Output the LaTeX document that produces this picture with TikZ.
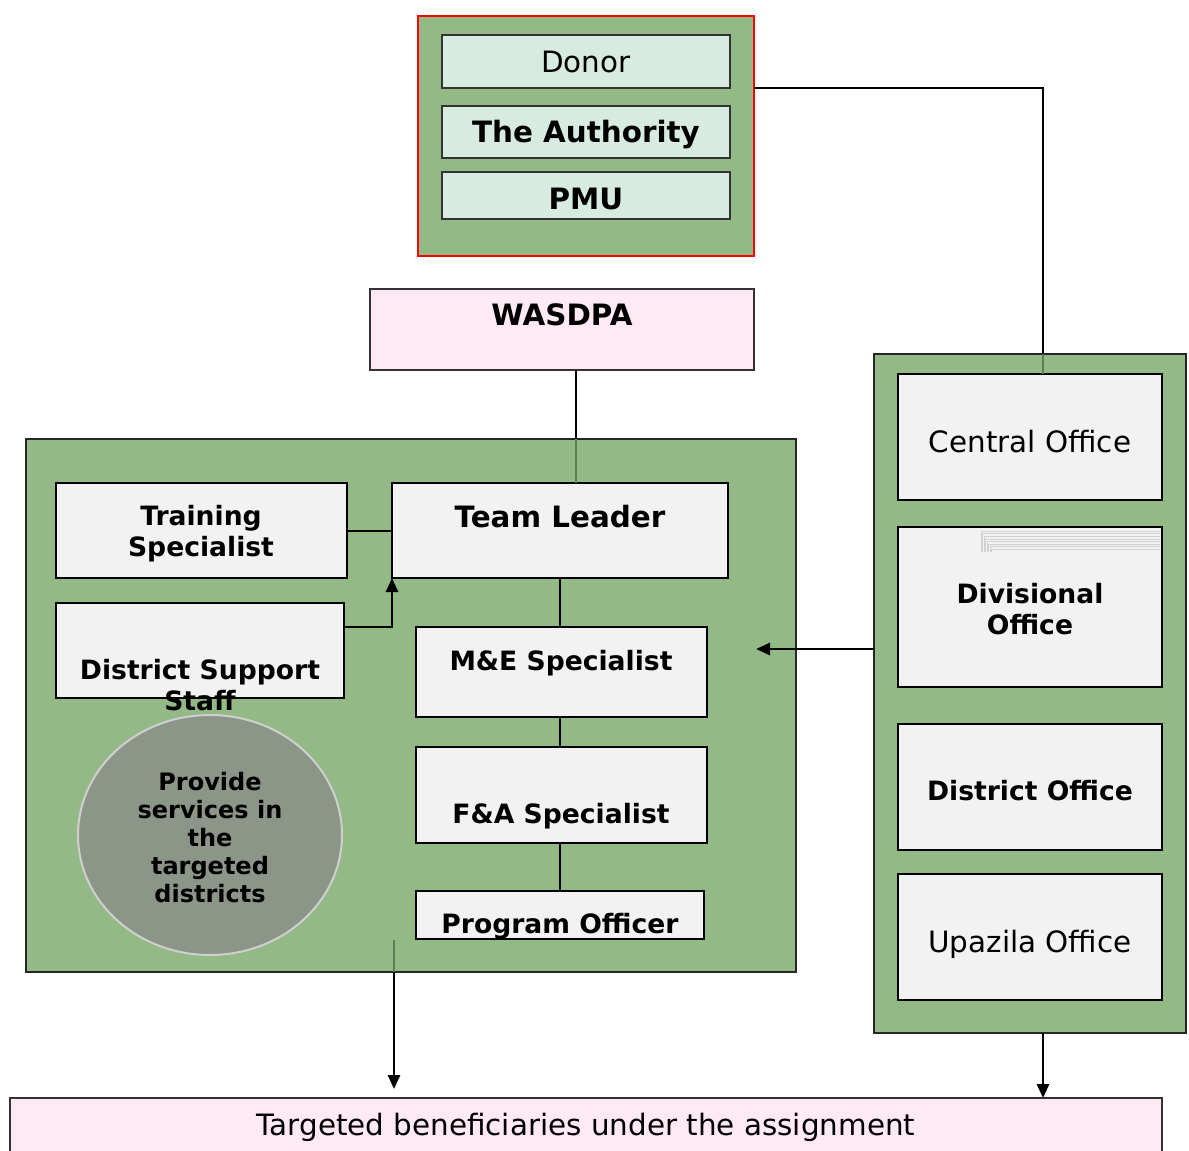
\documentclass[tikz,border=0pt]{standalone}
\usepackage{fontspec}
\setmainfont{DejaVu Sans}
\usetikzlibrary{arrows.meta,fit,shapes.geometric}
\definecolor{grn}{HTML}{93B986}
\definecolor{mint}{HTML}{D8EBE0}
\definecolor{pinkf}{HTML}{FFE9F4}
\definecolor{boxg}{HTML}{F2F2F2}
\definecolor{ellf}{HTML}{8C9688}
\definecolor{ellb}{HTML}{CFCFCF}
\definecolor{dkgrn}{HTML}{5E7F55}
\newcommand{\mybox}[6]{\node[#6, fit={(#2,#3) (#4,#5)}, inner sep=0pt, outer sep=0pt] (#1) {};}
\tikzset{
  grp/.style={draw=black!85, line width=1pt, fill=grn},
  redgrp/.style={draw=red, line width=1pt, fill=grn},
  mintbox/.style={draw=black!80, line width=0.8pt, fill=mint},
  graybox/.style={draw=black, line width=1.4pt, fill=boxg},
  pinkbox/.style={draw=black!80, line width=0.8pt, fill=pinkf},
  txt/.style={font=\fontsize{14.7}{15.5}\selectfont, inner sep=0pt, anchor=base, align=center},
  btxt/.style={txt, font=\fontsize{14.7}{15.5}\selectfont\bfseries},
  sbtxt/.style={txt, font=\fontsize{13.3}{15.5}\selectfont\bfseries},
  conn/.style={draw=black, line width=1.4pt},
  inconn/.style={draw=dkgrn, line width=1.4pt},
  arr/.style={conn, -{Triangle[length=7pt,width=6pt]}},
}
\begin{document}
\begin{tikzpicture}[x=0.5pt,y=-0.5pt]
\useasboundingbox (0,0) rectangle (1189,1151);
\clip (0,0) rectangle (1189,1151);
% top group
\mybox{topgrp}{418}{16}{754}{256}{redgrp}
\mybox{donor}{442}{35}{730}{88}{mintbox}
\mybox{auth}{442}{106}{730}{158}{mintbox}
\mybox{pmu}{442}{172}{730}{219}{mintbox}
\node[txt] (tdonor) at (586,72) {Donor};
\node[btxt] (tauth) at (586,142) {The Authority};
\node[btxt] (tpmu) at (586,209) {PMU};
% WASDPA
\mybox{wasdpa}{370}{289}{754}{370}{pinkbox}
\node[btxt] (twasdpa) at (562,325) {WASDPA};
% left group
\mybox{leftgrp}{26}{439}{796}{972}{grp}
\mybox{training}{56}{483}{347}{578}{graybox}
\mybox{team}{392}{483}{728}{578}{graybox}
\mybox{dss}{56}{603}{344}{698}{graybox}
\mybox{me}{416}{627}{707}{717}{graybox}
\mybox{fa}{416}{747}{707}{843}{graybox}
\mybox{po}{416}{891}{704}{939}{graybox}
\node[ellipse, draw=ellb, line width=1pt, fill=ellf, minimum width=132pt, minimum height=120pt, inner sep=0pt] (circ) at (210,835) {};
% connectors in left group
\coordinate (w1) at (576,370);
\coordinate (w2) at (576,439);
\draw[conn] (w1) -- (w2);
\draw[inconn] (w2) -- (w2 |- team.north);
\draw[conn] (training.east |- 0,531) -- (team.west |- 0,531);
\coordinate (d1) at (392,627);
\draw[conn, -{Triangle[length=7pt,width=6pt]}] (dss.east |- d1) -- (d1) -- (team.south west);
\coordinate (v) at (560,0);
\draw[conn] (team.south -| v) -- (me.north -| v);
\draw[conn] (me.south -| v) -- (fa.north -| v);
\draw[conn] (fa.south -| v) -- (po.north -| v);
% texts left group
\node[sbtxt] (ttraining) at (201,556) {Training\\Specialist};
\node[btxt] (tteam) at (560,527) {Team Leader};
\node[sbtxt] (tdss) at (200,710) {District Support\\Staff};
\node[sbtxt] (tme) at (561,670) {M\&E Specialist};
\node[sbtxt] (tfa) at (561,823) {F\&A Specialist};
\node[sbtxt] (tpo) at (560,933) {Program Officer};
\node[txt, font=\fontsize{12}{14}\selectfont\bfseries] (tcirc) at (210,902) {Provide\\services in\\the\\targeted\\districts};
% right group
\mybox{rightgrp}{874}{354}{1186}{1033}{grp}
\mybox{central}{898}{374}{1162}{500}{graybox}
\mybox{divisional}{898}{527}{1162}{687}{graybox}
\mybox{district}{898}{724}{1162}{850}{graybox}
\mybox{upazila}{898}{874}{1162}{1000}{graybox}
\foreach \i in {0,...,7}{
  \draw[black!18, line width=0.3pt] ({981+\i*1.5},{552}) -- ({981+\i*1.5},{531+\i*2.6}) -- (1160,{531+\i*2.6});
}
\node[txt] (tcentral) at (1030,452) {Central Office};
\node[sbtxt] (tdivisional) at (1030,634) {Divisional\\Office};
\node[sbtxt] (tdistrict) at (1030,800) {District Office};
\node[txt] (tupazila) at (1030,952) {Upazila Office};
% top-to-central connector
\coordinate (c1) at (1043,88);
\draw[conn] (topgrp.east |- c1) -- (c1) -- (c1 |- rightgrp.north);
\draw[inconn] (c1 |- rightgrp.north) -- (c1 |- central.north);
% right to left arrow
\coordinate (a1) at (874,649);
\coordinate (a2) at (756,649);
\draw[arr] (a1) -- (a2);
% bottom box
\mybox{bottom}{10}{1098}{1162}{1170}{pinkbox}
\node[txt] (tbottom) at (586,1135) {Targeted beneficiaries under the assignment};
% downward arrows
\coordinate (b1) at (394,940);
\coordinate (b2) at (394,1089);
\draw[inconn] (b1) -- (b1 |- leftgrp.south);
\draw[arr] (b1 |- leftgrp.south) -- (b2);
\coordinate (e1) at (1043,1033);
\draw[arr] (e1) -- (e1 |- bottom.north);
\end{tikzpicture}
\end{document}
